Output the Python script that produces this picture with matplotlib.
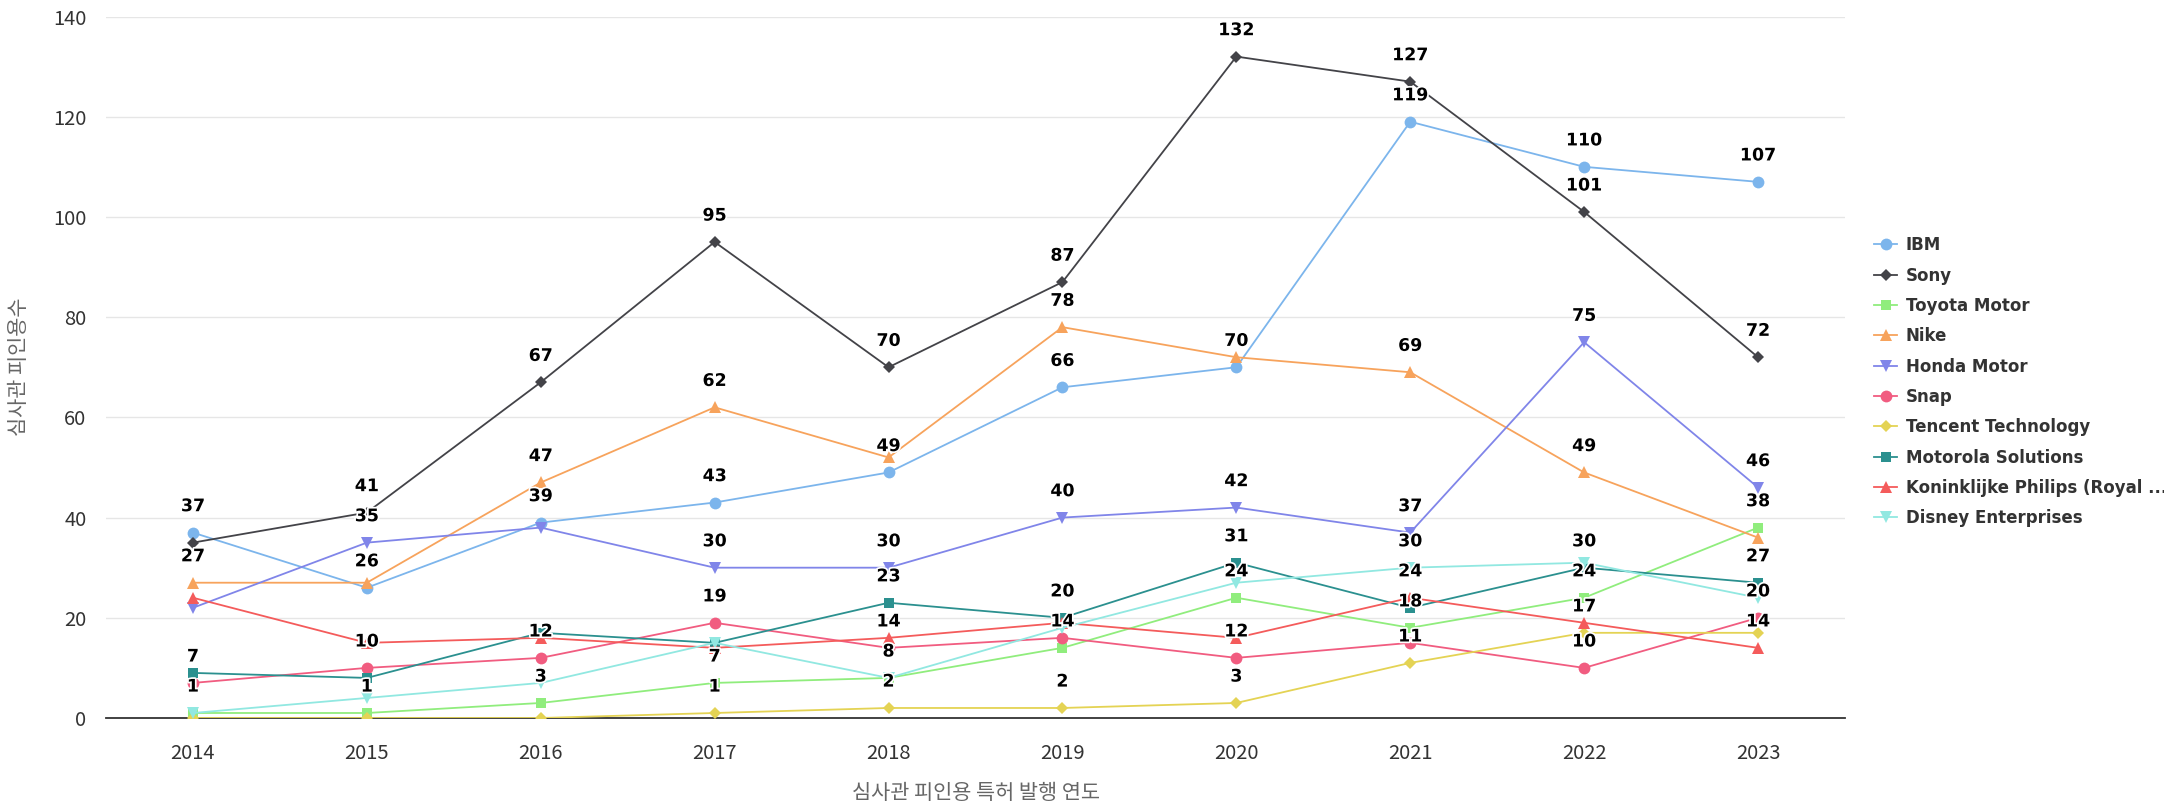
import matplotlib
matplotlib.use("Agg")
import matplotlib.pyplot as plt
import matplotlib.patheffects as pe
from matplotlib.lines import Line2D

plt.rcParams["font.family"] = ["DejaVu Sans", "Noto Sans CJK KR"]

#
# Datos
#
years = ["2014", "2015", "2016", "2017", "2018", "2019", "2020", "2021", "2022", "2023"]

ibm = [37, 26, 39, 43, 49, 66, 70, 119, 110, 107]
sony = [35, 41, 67, 95, 70, 87, 132, 127, 101, 72]
toyota = [1, 1, 3, 7, 8, 14, 24, 18, 24, 38]
nike = [27, 27, 47, 62, 52, 78, 72, 69, 49, 36]
honda = [22, 35, 38, 30, 30, 40, 42, 37, 75, 46]
snap = [7, 10, 12, 19, 14, 16, 12, 15, 10, 20]
tencent = [0, 0, 0, 1, 2, 2, 3, 11, 17, 17]
motorola = [9, 8, 17, 15, 23, 20, 31, 22, 30, 27]
philips = [24, 15, 16, 14, 16, 19, 16, 24, 19, 14]
disney = [1, 4, 7, 15, 8, 18, 27, 30, 31, 24]

names = ["IBM", "Sony", "Toyota Motor", "Nike", "Honda Motor", "Snap",
         "Tencent Technology", "Motorola Solutions",
         "Koninklijke Philips (Royal ...", "Disney Enterprises"]
series = [ibm, sony, toyota, nike, honda, snap, tencent, motorola, philips, disney]

colors = ["#7cb5ec", "#434348", "#90ed7d", "#f7a35c", "#8085e9",
          "#f15c80", "#e4d354", "#2b908f", "#f45b5b", "#91e8e1"]
markers = ["o", "D", "s", "^", "v", "o", "D", "s", "^", "v"]
msizes = {"o": 8.5, "D": 6.5, "s": 7.5, "^": 8.5, "v": 8.5}

#
# Figura
#
W, H = 2164, 807
fig = plt.figure(figsize=(W / 100, H / 100), dpi=100)
ax = fig.add_axes([106 / W, 1 - 718 / H, (1845 - 106) / W, (718 - 16.5) / H])

x = list(range(len(years)))
for i, (vals, name) in enumerate(zip(series, names)):
    m = markers[i]
    ax.plot(x, vals, color=colors[i], lw=1.3, marker=m, ms=msizes[m],
            markeredgewidth=0, label=name, zorder=3 + i * 0.1)

ax.set_xlim(-0.5, len(years) - 0.5)
ax.set_ylim(0, 140)
ax.set_yticks(range(0, 141, 20))
ax.set_xticks(x)
ax.set_xticklabels(years)

ax.grid(axis="y", color="#e6e6e6", lw=1.0)
ax.set_axisbelow(True)
for s in ["top", "right", "left"]:
    ax.spines[s].set_visible(False)
ax.spines["bottom"].set_color("#333333")
ax.spines["bottom"].set_linewidth(1.3)
ax.spines["bottom"].set_zorder(2.5)

ax.tick_params(axis="both", length=0, labelcolor="#333333", labelsize=14.5)
ax.tick_params(axis="x", pad=18)
ax.tick_params(axis="y", pad=14)
for lab in ax.get_xticklabels() + ax.get_yticklabels():
    lab.set_fontfamily(["Noto Sans CJK KR", "DejaVu Sans"])
    lab.set_fontweight("light")

ax.set_xlabel("심사관 피인용 특허 발행 연도", fontsize=15, color="#666666",
              fontfamily=["Noto Sans CJK KR", "DejaVu Sans"], fontweight="light")
ax.xaxis.set_label_coords(0.5, -0.107)
ax.xaxis.label.set_va("center")
ax.set_ylabel("심사관 피인용수", fontsize=15, color="#666666",
              fontfamily=["Noto Sans CJK KR", "DejaVu Sans"], fontweight="light")
ax.yaxis.set_label_coords(-0.05, 0.5)
ax.yaxis.label.set_va("center")

#
# Etiquetas de datos (se ocultan las que se solapan, en orden de serie)
#
px_per_unit = ax.transData.transform((0, 1))[1] - ax.transData.transform((0, 0))[1]
shown = {xi: [] for xi in x}
for i, vals in enumerate(series):
    for xi, v in zip(x, vals):
        if any(abs(v - o) * px_per_unit < 28 for o in shown[xi]):
            continue
        shown[xi].append(v)
        ax.annotate(str(v), (xi, v), xytext=(0, 19), textcoords="offset points",
                    ha="center", va="center", fontsize=12.5, fontweight="bold",
                    color="#000000", zorder=10,
                    path_effects=[pe.withStroke(linewidth=2.5, foreground="white")])

#
# Leyenda
#
handles = [Line2D([0], [0], color=colors[i], lw=1.3, marker=markers[i],
                  ms=msizes[markers[i]], markeredgewidth=0)
           for i in range(len(names))]
fig.legend(handles, names, loc="center left",
           bbox_to_anchor=(1874 / W, 1 - 381.7 / H), frameon=False,
           prop={"size": 12, "weight": "bold"}, labelcolor="#333333",
           handlelength=1.4, handletextpad=0.5, labelspacing=0.74,
           borderpad=0, borderaxespad=0)

fig.savefig("out.png", dpi=100)
